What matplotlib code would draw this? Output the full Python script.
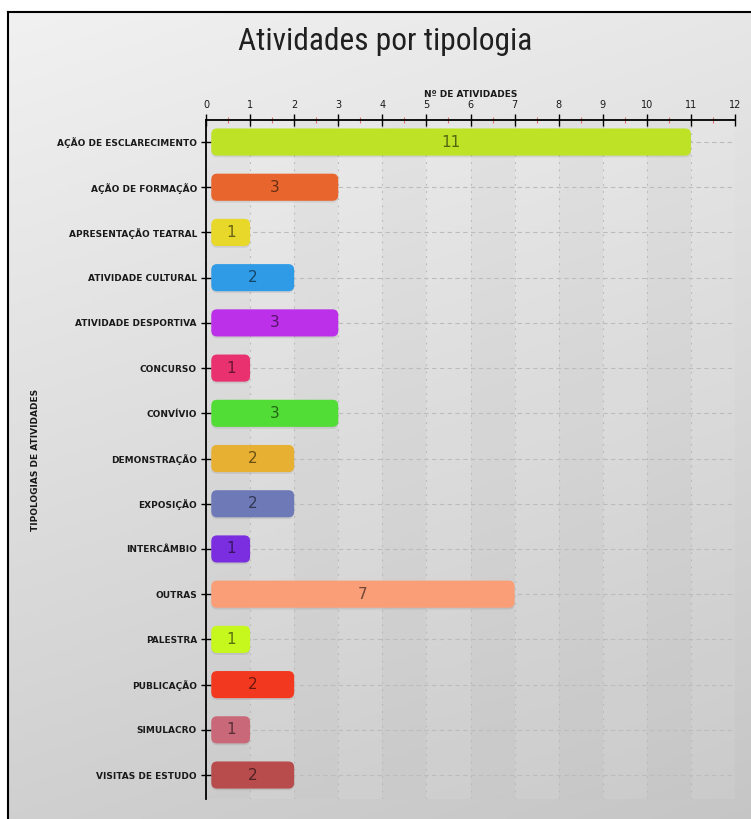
import numpy as np
import matplotlib
matplotlib.use("Agg")
import matplotlib.pyplot as plt
from matplotlib.patches import FancyBboxPatch
from matplotlib.lines import Line2D
from matplotlib import font_manager
import matplotlib.colors as mcolors

categories = ["AÇÃO DE ESCLARECIMENTO", "AÇÃO DE FORMAÇÃO", "APRESENTAÇÃO TEATRAL",
              "ATIVIDADE CULTURAL", "ATIVIDADE DESPORTIVA", "CONCURSO", "CONVÍVIO",
              "DEMONSTRAÇÃO", "EXPOSIÇÃO", "INTERCÂMBIO", "OUTRAS", "PALESTRA",
              "PUBLICAÇÃO", "SIMULACRO", "VISITAS DE ESTUDO"]
values = [11, 3, 1, 2, 3, 1, 3, 2, 2, 1, 7, 1, 2, 1, 2]
colors = ["#bde226", "#e8662e", "#e8d82a", "#2f9be6", "#bb30e8", "#e8316e", "#52dc36",
          "#e8b032", "#6e7ab8", "#7a2ee0", "#fa9e78", "#c6f81e", "#f2381e", "#c86878",
          "#b84c4c"]
x_ticks = list(range(0, 13))
title = "Atividades por tipologia"
x_label = "Nº DE ATIVIDADES"
y_label = "TIPOLOGIAS DE ATIVIDADES"

W, H = 751, 819
fig = plt.figure(figsize=(W / 100, H / 100), dpi=100)
fig.patch.set_facecolor("white")

# background gradient panel
bg = fig.add_axes([8 / W, 0, 1 - 8 / W, 1 - 12 / H], zorder=0)
yy, xx = np.mgrid[0:1:200j, 0:1:200j]
shade = 0.945 - 0.13 * yy - 0.04 * xx
bg.imshow(np.dstack([shade, shade, shade]), aspect="auto", extent=[0, 1, 0, 1], origin="upper")
bg.set_axis_off()

# frame lines
fig.add_artist(Line2D([8 / W, 8 / W], [0, 1 - 12 / H], color="black", lw=1.5, transform=fig.transFigure))
fig.add_artist(Line2D([8 / W, 1], [1 - 12 / H, 1 - 12 / H], color="black", lw=1.5, transform=fig.transFigure))

# title font: prefer a condensed family, fit to the reference width
names = {f.name for f in font_manager.fontManager.ttflist}
tfam = "Roboto"
for cand in ["Roboto Condensed", "DejaVu Sans Condensed", "Liberation Sans Narrow",
             "Open Sans Condensed", "Roboto"]:
    if cand in names:
        tfam = cand
        break
ttl = fig.text(385 / W, 1 - 41 / H, title, fontsize=24, ha="center", va="center",
               family=tfam, color="#202020", fontstretch="condensed")
fig.canvas.draw()
wpx = ttl.get_window_extent().width
ttl.set_fontsize(24 * 294 / wpx)

x0, x1 = 206, 735
y0, y1 = 120, 799
ax = fig.add_axes([x0 / W, 1 - y1 / H, (x1 - x0) / W, (y1 - y0) / H], zorder=1)
ax.set_facecolor((1, 1, 1, 0.08))

pos = np.arange(len(categories))
bars = ax.barh(pos, values, height=0.6, color=colors)
ax.set_xlim(0, 12)
ax.set_ylim(14.53, -0.487)

for b, c, v in zip(bars, colors, values):
    b.set_visible(False)
    off = 0.12
    p = FancyBboxPatch((b.get_x() + off, b.get_y()), b.get_width() - off, b.get_height(),
                       boxstyle="round,pad=0,rounding_size=0.13", facecolor=c,
                       edgecolor="none", zorder=3)
    ax.add_patch(p)
    sh = FancyBboxPatch((b.get_x() + off, b.get_y() + 0.04), b.get_width() - off, b.get_height(),
                        boxstyle="round,pad=0,rounding_size=0.13", facecolor=(0, 0, 0, 0.08),
                        edgecolor="none", zorder=2.5)
    ax.add_patch(sh)
    rgb = np.array(mcolors.to_rgb(c)) * 0.45
    ax.text((b.get_x() + off + b.get_width()) / 2, b.get_y() + b.get_height() / 2, str(v),
            ha="center", va="center", fontsize=11, color=rgb, zorder=4)

for i in range(0, 12, 2):
    ax.axvspan(i, i + 1, color=(0, 0, 0, 0.025), lw=0, zorder=0)

ax.set_yticks(pos)
ax.set_yticklabels(categories, fontsize=6.5, fontweight="bold", color="#1a1a1a")
ax.set_xticks(x_ticks)
ax.set_xticklabels([str(t) for t in x_ticks], fontsize=7, color="#1a1a1a")
ax.set_xticks(np.arange(0.5, 12, 1), minor=True)
ax.xaxis.tick_top()
ax.xaxis.set_label_position("top")
ax.set_xlabel(x_label, fontsize=6.5, fontweight="bold", labelpad=2, color="#1a1a1a")
ax.tick_params(axis="x", which="major", direction="inout", length=8, width=1, color="black", pad=3)
ax.tick_params(axis="x", which="minor", direction="inout", length=4, width=0.8, color="#e07070")
ax.tick_params(axis="y", which="major", direction="inout", length=7, width=1, color="black", pad=3)
ax.set_ylabel(y_label, fontsize=6.5, fontweight="bold", color="#1a1a1a")
ax.yaxis.set_label_coords((40 - x0) / (x1 - x0), 0.5)

for s in ["right", "bottom"]:
    ax.spines[s].set_visible(False)
for s in ["left", "top"]:
    ax.spines[s].set_color("black")
    ax.spines[s].set_linewidth(1.3)

ax.grid(axis="x", which="major", color="#b8b8b8", linestyle=(0, (1.5, 5)), lw=0.8, zorder=1)
ax.grid(axis="y", which="major", color="#bcbcbc", linestyle=(0, (4, 3)), lw=0.8, zorder=1)
ax.set_axisbelow(True)

fig.savefig("out.png", dpi=100)
